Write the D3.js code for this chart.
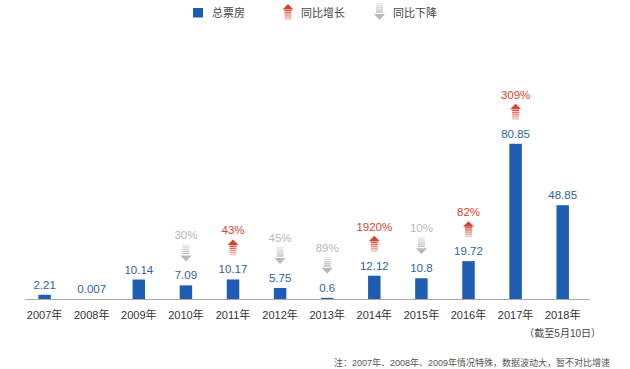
<!DOCTYPE html>
<html><head><meta charset="utf-8">
<script src="https://cdn.jsdelivr.net/npm/d3@7"></script>
<style>
html,body{margin:0;padding:0;background:#fff;}
text{font-family:"Liberation Sans","Noto Sans CJK SC",Arial,sans-serif;}
</style></head>
<body><svg id="c" width="630" height="369"></svg>
<script>
const years = ["2007年","2008年","2009年","2010年","2011年","2012年","2013年","2014年","2015年","2016年","2017年","2018年"];
const boxOffice = [2.21, 0.007, 10.14, 7.09, 10.17, 5.75, 0.6, 12.12, 10.8, 19.72, 80.85, 48.85];
const growth = [null, null, null, -30, 43, -45, -89, 1920, -10, 82, 309, null];
const legendLabels = ["总票房", "同比增长", "同比下降"];
const footNote = "（截至5月10日）";
const noteText = "注：2007年、2008年、2009年情况特殊，数据波动大，暂不对比增速";

const BLUE = "#1f5db3", LABEL = "#2f5f9f", RED = "#d5442f", GRAY = "#b8b8b8";
const svg = d3.select("#c");
const baseY = 299;

const x = d3.scaleBand().domain(years).range([21.05, 586.25]).paddingInner(0.735).paddingOuter(0.3675);
const y = d3.scaleLinear().domain([0, 100]).range([baseY, baseY - 192]);

// axis line
svg.append("line").attr("x1", 25).attr("x2", 590).attr("y1", baseY + 0.5).attr("y2", baseY + 0.5)
  .attr("stroke", "#a9a9a9").attr("stroke-width", 1);

// bars
svg.selectAll("rect.bar").data(boxOffice).join("rect").attr("class", "bar")
  .attr("x", (d, i) => x(years[i]))
  .attr("width", x.bandwidth())
  .attr("y", d => y(d))
  .attr("height", d => baseY - y(d))
  .attr("fill", BLUE);

// value labels
svg.selectAll("text.val").data(boxOffice).join("text").attr("class", "val")
  .attr("x", (d, i) => x(years[i]) + x.bandwidth() / 2)
  .attr("y", d => y(d) - 10 + 4)
  .attr("text-anchor", "middle").attr("font-size", 11.5).attr("fill", LABEL)
  .text(d => String(d));

function upArrow(g, cx, bottom, color) {
  const top = bottom - 16;
  g.append("path").attr("d", `M${cx - 5.5},${top + 5.5}L${cx},${top}L${cx + 5.5},${top + 5.5}Z`).attr("fill", color);
  const ops = [0.95, 0.8, 0.65, 0.5, 0.35];
  ops.forEach((o, k) => {
    g.append("rect").attr("x", cx - 3.5).attr("width", 7).attr("y", top + 6 + k * 2.1).attr("height", 1.4)
      .attr("fill", color).attr("opacity", o);
  });
}
function downArrow(g, cx, bottom, color) {
  const top = bottom - 17;
  const ops = [0.35, 0.5, 0.65, 0.8, 0.95];
  ops.forEach((o, k) => {
    g.append("rect").attr("x", cx - 3.5).attr("width", 7).attr("y", top + k * 2.1).attr("height", 1.4)
      .attr("fill", color).attr("opacity", o);
  });
  g.append("path").attr("d", `M${cx - 5.5},${bottom - 6}L${cx},${bottom}L${cx + 5.5},${bottom - 6}Z`).attr("fill", color);
}

// growth arrows + percentages
const ga = svg.append("g");
growth.forEach((gv, i) => {
  if (gv === null) return;
  const cx = x(years[i]) + x.bandwidth() / 2;
  const labelC = y(boxOffice[i]) - 10;
  const arrowBottom = labelC - 14;
  const up = gv > 0;
  const h = up ? 16 : 17;
  if (up) upArrow(ga, cx, arrowBottom, RED); else downArrow(ga, cx, arrowBottom, GRAY);
  ga.append("text").attr("x", cx).attr("y", arrowBottom - h - 9 + 4)
    .attr("text-anchor", "middle").attr("font-size", 11.5)
    .attr("fill", up ? RED : GRAY).text(Math.abs(gv) + "%");
});

// category labels
svg.selectAll("text.cat").data(years).join("text").attr("class", "cat")
  .attr("x", d => x(d) + x.bandwidth() / 2).attr("y", 319)
  .attr("text-anchor", "middle").attr("font-size", 11).attr("fill", "#333").text(d => d);

svg.append("text").attr("x", x(years[11]) + x.bandwidth() / 2).attr("y", 336.5)
  .attr("text-anchor", "middle").attr("font-size", 10).attr("fill", "#444").text(footNote);

svg.append("text").attr("x", 610).attr("y", 366).attr("text-anchor", "end")
  .attr("font-size", 9).attr("fill", "#555").text(noteText);

// legend
const lg = svg.append("g");
lg.append("rect").attr("x", 193).attr("y", 8).attr("width", 10).attr("height", 9.5).attr("fill", BLUE);
lg.append("text").attr("x", 212).attr("y", 17).attr("font-size", 11).attr("fill", "#444").text(legendLabels[0]);
upArrow(lg, 288, 20, RED);
lg.append("text").attr("x", 301).attr("y", 17).attr("font-size", 11).attr("fill", "#444").text(legendLabels[1]);
downArrow(lg, 379.5, 20, GRAY);
lg.append("text").attr("x", 393).attr("y", 17).attr("font-size", 11).attr("fill", "#444").text(legendLabels[2]);
</script></body></html>
